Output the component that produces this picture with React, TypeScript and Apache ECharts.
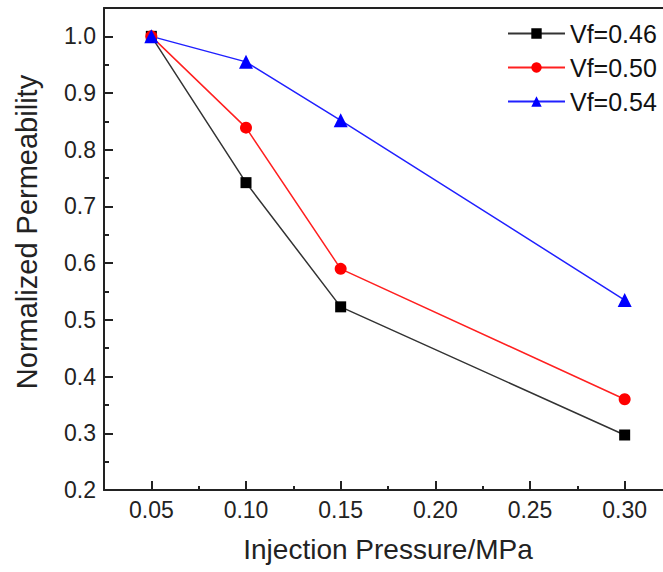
import React, { useEffect, useRef } from "react";
import * as echarts from "echarts";

const pressures = [0.05, 0.1, 0.15, 0.3];
const vf046 = [1.0, 0.742, 0.523, 0.297];
const vf050 = [1.0, 0.839, 0.59, 0.36];
const vf054 = [1.0, 0.955, 0.852, 0.535];
const seriesNames = ["Vf=0.46", "Vf=0.50", "Vf=0.54"];
const xMajor = [0.05, 0.1, 0.15, 0.2, 0.25, 0.3];
const xMinor = [0.075, 0.125, 0.175, 0.225, 0.275];
const yMajor = [0.2, 0.3, 0.4, 0.5, 0.6, 0.7, 0.8, 0.9, 1.0];
const yMinor = [0.25, 0.35, 0.45, 0.55, 0.65, 0.75, 0.85, 0.95];

const FONT = "Liberation Sans, Arial, sans-serif";
const AX = "#222";

export default function App() {
  const ref = useRef<HTMLDivElement>(null);
  useEffect(() => {
    if (!ref.current) return;
    const chart = echarts.init(ref.current, null, { renderer: "svg" });
    const gridRect = { left: 104, right: 0, top: 8, bottom: 82 };
    const pair = (ys: number[]) => pressures.map((x, i) => [x, ys[i]]);
    chart.setOption({
      animation: false,
      backgroundColor: "#fff",
      textStyle: { fontFamily: FONT },
      grid: [{ ...gridRect }, { ...gridRect }],
      legend: {
        orient: "vertical",
        left: 502,
        top: 16,
        itemWidth: 57,
        itemHeight: 13,
        itemGap: 9,
        textStyle: { fontSize: 25, color: "#111", fontFamily: FONT, lineHeight: 24 },
        data: seriesNames,
      },
      graphic: [
        {
          type: "text",
          x: 27,
          y: 232,
          rotation: Math.PI / 2,
          style: {
            text: "Normalized Permeability",
            font: `29px ${FONT}`,
            fill: "#222",
            align: "center",
            verticalAlign: "middle",
          },
        },
      ],
      xAxis: [
        {
          type: "value",
          gridIndex: 0,
          min: 0.025,
          max: 0.325,
          position: "bottom",
          name: "Injection Pressure/MPa",
          nameLocation: "middle",
          nameGap: 45,
          nameTextStyle: { fontSize: 28, color: "#222", fontFamily: FONT },
          axisLine: { show: true, onZero: false, lineStyle: { color: AX, width: 2 } },
          axisTick: { show: true, inside: true, length: 9, customValues: xMajor, lineStyle: { color: AX, width: 2 } },
          axisLabel: {
            customValues: xMajor,
            formatter: (v: number) => v.toFixed(2),
            fontSize: 23,
            color: "#222",
            margin: 8,
            fontFamily: FONT,
          },
          splitLine: { show: false },
        },
        {
          type: "value",
          gridIndex: 1,
          min: 0.025,
          max: 0.325,
          axisLine: { show: false, onZero: false },
          axisTick: { show: true, inside: true, length: 4, customValues: xMinor, lineStyle: { color: AX, width: 2 } },
          axisLabel: { show: false },
          splitLine: { show: false },
        },
        {
          type: "value",
          gridIndex: 0,
          position: "top",
          min: 0.025,
          max: 0.325,
          axisLine: { show: true, onZero: false, lineStyle: { color: AX, width: 2 } },
          axisTick: { show: false },
          axisLabel: { show: false },
          splitLine: { show: false },
        },
      ],
      yAxis: [
        {
          type: "value",
          gridIndex: 0,
          min: 0.2,
          max: 1.05,
          axisLine: { show: true, onZero: false, lineStyle: { color: AX, width: 2 } },
          axisTick: { show: true, inside: true, length: 9, customValues: yMajor, lineStyle: { color: AX, width: 2 } },
          axisLabel: {
            customValues: yMajor,
            formatter: (v: number) => v.toFixed(1),
            fontSize: 23,
            color: "#222",
            margin: 8,
            fontFamily: FONT,
          },
          splitLine: { show: false },
        },
        {
          type: "value",
          gridIndex: 1,
          min: 0.2,
          max: 1.05,
          axisLine: { show: false, onZero: false },
          axisTick: { show: true, inside: true, length: 5, customValues: yMinor, lineStyle: { color: AX, width: 2 } },
          axisLabel: { show: false },
          splitLine: { show: false },
        },
      ],
      series: [
        {
          name: seriesNames[0],
          type: "line",
          xAxisIndex: 0,
          yAxisIndex: 0,
          data: pair(vf046),
          symbol: "rect",
          symbolSize: 11,
          itemStyle: { color: "#000" },
          lineStyle: { color: "#333", width: 1.5 },
        },
        {
          name: seriesNames[1],
          type: "line",
          xAxisIndex: 0,
          yAxisIndex: 0,
          data: pair(vf050),
          symbol: "circle",
          symbolSize: 12,
          itemStyle: { color: "#ff0000" },
          lineStyle: { color: "#ff2020", width: 1.5 },
        },
        {
          name: seriesNames[2],
          type: "line",
          xAxisIndex: 0,
          yAxisIndex: 0,
          data: pair(vf054),
          symbol: "triangle",
          symbolSize: 14,
          itemStyle: { color: "#0000ff" },
          lineStyle: { color: "#2020ff", width: 1.5 },
        },
      ],
    });
    return () => chart.dispose();
  }, []);
  return (
    <div style={{ position: "absolute", left: 0, top: 0, width: 663, height: 572, overflow: "hidden", background: "#fff" }}>
      <div ref={ref} style={{ width: 672, height: 572 }} />
    </div>
  );
}
